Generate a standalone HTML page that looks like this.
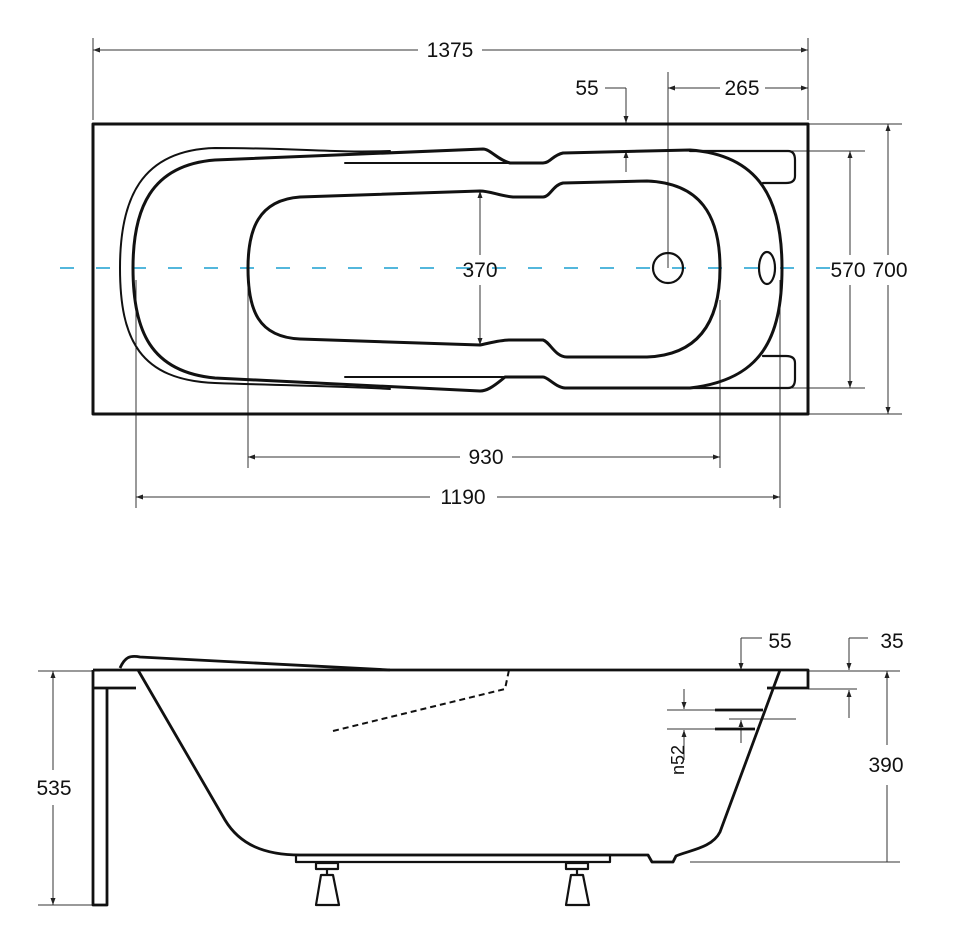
<!DOCTYPE html>
<html><head><meta charset="utf-8"><style>
body{margin:0;background:#fff}
svg{display:block}
text{font-family:"Liberation Sans",sans-serif;font-size:21px;fill:#111}
</style></head><body>
<svg width="964" height="951" viewBox="0 0 964 951">
<defs>
<marker id="a" markerWidth="8" markerHeight="8" refX="7" refY="4" orient="auto" markerUnits="userSpaceOnUse"><path d="M0,1.5 L7,4 L0,6.5z" fill="#222"/></marker>
</defs>
<g stroke="#333" stroke-width="1" fill="none">
<line x1="93" y1="38" x2="93" y2="120"/><line x1="808" y1="38" x2="808" y2="120"/>
<line x1="105" y1="50" x2="93" y2="50" marker-end="url(#a)"/><line x1="795" y1="50" x2="808" y2="50" marker-end="url(#a)"/>
<line x1="93" y1="50" x2="418" y2="50"/><line x1="482" y1="50" x2="808" y2="50"/>
<line x1="605" y1="88" x2="626" y2="88"/><line x1="626" y1="88" x2="626" y2="123" marker-end="url(#a)"/>
<line x1="626" y1="172" x2="626" y2="151" marker-end="url(#a)"/>
<line x1="668" y1="72" x2="668" y2="268"/>
<line x1="700" y1="88" x2="668" y2="88" marker-end="url(#a)"/><line x1="700" y1="88" x2="720" y2="88"/>
<line x1="765" y1="88" x2="808" y2="88" marker-end="url(#a)"/>
<line x1="690" y1="151" x2="865" y2="151"/><line x1="690" y1="388" x2="865" y2="388"/>
<line x1="850" y1="255" x2="850" y2="151" marker-end="url(#a)"/><line x1="850" y1="285" x2="850" y2="388" marker-end="url(#a)"/>
<line x1="808" y1="124" x2="902" y2="124"/><line x1="808" y1="414" x2="902" y2="414"/>
<line x1="888" y1="255" x2="888" y2="124" marker-end="url(#a)"/><line x1="888" y1="285" x2="888" y2="414" marker-end="url(#a)"/>
<line x1="480" y1="255" x2="480" y2="191" marker-end="url(#a)"/><line x1="480" y1="285" x2="480" y2="345" marker-end="url(#a)"/>
<line x1="248" y1="268" x2="248" y2="468"/><line x1="720" y1="300" x2="720" y2="468"/>
<line x1="460" y1="457" x2="248" y2="457" marker-end="url(#a)"/><line x1="512" y1="457" x2="720" y2="457" marker-end="url(#a)"/>
<line x1="136" y1="280" x2="136" y2="508"/><line x1="780" y1="280" x2="780" y2="508"/>
<line x1="430" y1="497" x2="136" y2="497" marker-end="url(#a)"/><line x1="497" y1="497" x2="780" y2="497" marker-end="url(#a)"/>
</g>
<line x1="60" y1="268" x2="842" y2="268" stroke="#1a9fd0" stroke-width="1.5" stroke-dasharray="14,22"/>
<g stroke="#111" fill="none" stroke-linecap="round" stroke-linejoin="round">
<rect x="93" y="124" width="715" height="290" stroke-width="3"/>
<path d="M390,151 C330,153 300,148 215,148 C140,150 120,200 120,268 C120,340 140,380 215,383 C300,386 340,386 390,389" stroke-width="2"/>
<path d="M483,149 L215,160 C150,165 133,210 133,268 C133,330 150,372 215,378 L480,391 C486,391 492,388 505,377 L543,377 C548,377 555,387 565,388 L690,388 C760,380 782,340 782,268 C782,200 760,155 690,150 L563,153 C553,155 550,163 543,163 L510,163 C498,160 490,149 483,149 Z" stroke-width="3"/>
<path d="M345,163 L510,163 M345,377 L505,377" stroke-width="2"/>
<path d="M480,191 L300,197 C258,200 248,230 248,268 C248,310 258,337 300,339 L480,345 C490,343 500,340 510,340 L543,340 C550,342 555,357 567,357 L647,357 C700,355 720,320 720,268 C720,215 700,183 647,181 L563,183 C553,185 550,197 543,197 L513,197 C500,196 490,191 480,191 Z" stroke-width="3"/>
<path d="M690,151 L788,151 Q795,151 795,160 L795,176 Q795,183 786,183 L763,183" stroke-width="2.2"/>
<path d="M690,388 L788,388 Q795,388 795,379 L795,363 Q795,356 786,356 L763,356" stroke-width="2.2"/>
<circle cx="668" cy="268" r="15" stroke-width="2.2"/>
<ellipse cx="767" cy="268" rx="8" ry="16" stroke-width="2.2"/>
</g>
<text x="450" y="57" text-anchor="middle">1375</text>
<text x="587" y="95" text-anchor="middle">55</text>
<text x="742" y="95" text-anchor="middle">265</text>
<text x="480" y="277" text-anchor="middle">370</text>
<text x="848" y="277" text-anchor="middle">570</text>
<text x="890" y="277" text-anchor="middle">700</text>
<text x="486" y="464" text-anchor="middle">930</text>
<text x="463" y="504" text-anchor="middle">1190</text>
<g stroke="#333" stroke-width="1" fill="none">
<line x1="38" y1="671" x2="100" y2="671"/><line x1="38" y1="905" x2="100" y2="905"/>
<line x1="53" y1="770" x2="53" y2="671" marker-end="url(#a)"/><line x1="53" y1="805" x2="53" y2="905" marker-end="url(#a)"/>
<line x1="762" y1="638" x2="741" y2="638"/><line x1="741" y1="638" x2="741" y2="670" marker-end="url(#a)"/>
<line x1="868" y1="638" x2="849" y2="638"/><line x1="849" y1="638" x2="849" y2="670" marker-end="url(#a)"/>
<line x1="808" y1="671" x2="900" y2="671"/><line x1="808" y1="689" x2="857" y2="689"/>
<line x1="849" y1="718" x2="849" y2="690" marker-end="url(#a)"/>
<line x1="887" y1="745" x2="887" y2="671" marker-end="url(#a)"/><line x1="887" y1="785" x2="887" y2="862"/>
<line x1="690" y1="862" x2="900" y2="862"/>
<line x1="667" y1="710" x2="715" y2="710"/><line x1="667" y1="729" x2="715" y2="729"/>
<line x1="684" y1="689" x2="684" y2="709" marker-end="url(#a)"/><line x1="684" y1="760" x2="684" y2="730" marker-end="url(#a)"/>
<line x1="729" y1="719" x2="796" y2="719"/><line x1="741" y1="743" x2="741" y2="720" marker-end="url(#a)"/>
</g>
<text x="780" y="648" text-anchor="middle">55</text>
<text x="892" y="648" text-anchor="middle">35</text>
<text x="54" y="795" text-anchor="middle">535</text>
<text x="886" y="772" text-anchor="middle">390</text>
<text transform="translate(684,760) rotate(-90)" text-anchor="middle" style="font-size:18px">n52</text>
<g stroke="#111" fill="none" stroke-linejoin="round" stroke-width="2.8">
<path d="M93,670 L808,670 L808,688 L767,688"/>
<path d="M93,670 L93,688 L136,688 M93,688 L93,905 L107,905 L107,688"/>
<path d="M120,668 C125,657 130,655 140,657 L390,670"/>
<path d="M138,670 L225,820 C240,845 265,855 300,855 L648,855 L652,862 L673,862 L676,856 C690,850 712,848 720,832 L780,670"/>
<path d="M715,710 L763,710 M715,729 L755,729"/>
<rect x="296" y="855" width="314" height="7" stroke-width="2.2"/>
<path d="M316,863 L338,863 L338,869 L316,869 Z M327,869 L327,875 M321,875 L333,875 L339,905 L316,905 Z" stroke-width="2.2"/>
<path d="M566,863 L588,863 L588,869 L566,869 Z M577,869 L577,875 M571,875 L583,875 L589,905 L566,905 Z" stroke-width="2.2"/>
</g>
<path d="M333,731 L505,689 L509,670" stroke="#111" stroke-width="2" fill="none" stroke-dasharray="6,4"/>
</svg>
</body></html>
